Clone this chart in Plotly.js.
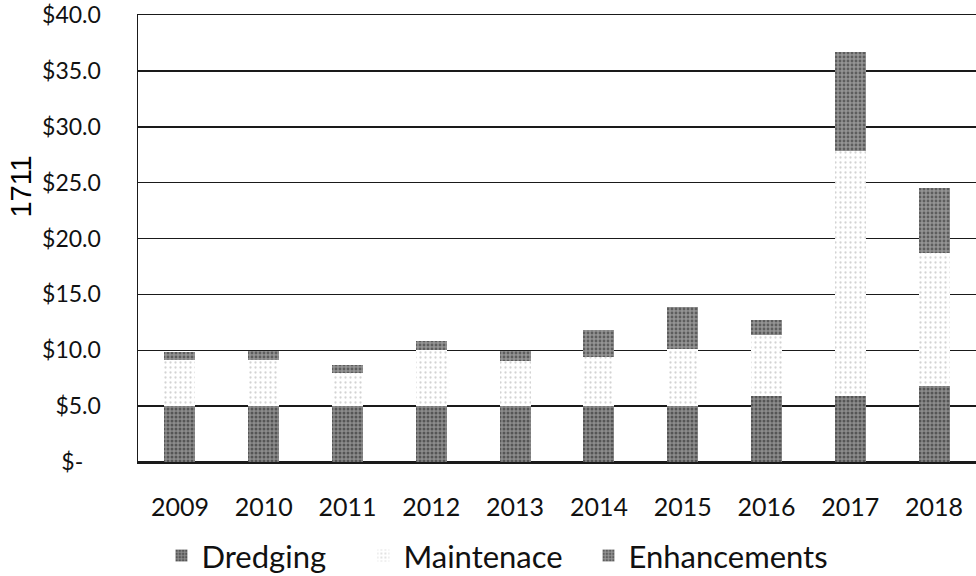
<!DOCTYPE html>
<html>
<head>
<meta charset="utf-8">
<script src="https://cdn.plot.ly/plotly-3.0.1.min.js"></script>
<style>html,body{margin:0;padding:0;background:#fff;}#chart{width:976px;height:576px;}</style>
</head>
<body>
<div id="chart"></div>
<script>
const years = ['2009','2010','2011','2012','2013','2014','2015','2016','2017','2018'];
const dredging = [5.0, 5.0, 5.0, 5.0, 5.0, 5.0, 5.0, 5.9, 5.9, 6.8];
const maintenance = [4.1, 4.1, 3.0, 5.0, 4.0, 4.4, 5.1, 5.5, 21.9, 11.9];
const enhancements = [0.7, 0.8, 0.7, 0.8, 0.9, 2.4, 3.8, 1.3, 8.9, 5.8];
const seriesNames = ['Dredging', 'Maintenace', 'Enhancements'];
const yTickVals = [0, 5, 10, 15, 20, 25, 30, 35, 40];
const yTickText = ['$-\u00a0\u00a0\u00a0', '$5.0', '$10.0', '$15.0', '$20.0', '$25.0', '$30.0', '$35.0', '$40.0'];
const stampText = '1711';

const font = 'Lato, "Open Sans", sans-serif';
function tr(name, vals, bg, fg, size, sol, leg) {
  return {
    type: 'bar', name: name, x: years, y: vals, width: 0.37, legend: leg,
    marker: {color: bg, line: {width: 0},
      pattern: {shape: '.', bgcolor: bg, fgcolor: fg, size: size, solidity: sol, fillmode: 'overlay'}},
    hoverinfo: 'skip'
  };
}
const data = [
  tr(seriesNames[0], dredging, '#8c8c8c', '#1e1e1e', 4, 0.45, 'legend'),
  tr(seriesNames[1], maintenance, '#ffffff', '#a8a8a8', 5, 0.16, 'legend2'),
  tr(seriesNames[2], enhancements, '#949494', '#262626', 4, 0.4, 'legend3')
];
function leg(xp) {
  return {
    orientation: 'h', x: xp, xanchor: 'left', y: -0.21, yanchor: 'middle',
    font: {size: 31, family: font, color: '#111'}, bgcolor: 'rgba(0,0,0,0)'
  };
}
const layout = {
  width: 976, height: 576,
  margin: {l: 138, r: 0, t: 15, b: 114, autoexpand: false},
  paper_bgcolor: '#fff', plot_bgcolor: '#fff',
  barmode: 'stack',
  showlegend: true,
  font: {family: font, color: '#111'},
  xaxis: {
    type: 'category', showgrid: false, zeroline: false, automargin: false,
    showline: true, mirror: true, linecolor: '#1a1a1a', linewidth: 1.5,
    ticks: '', tickfont: {size: 25, family: font, color: '#111'},
    ticklabelstandoff: 22
  },
  yaxis: {
    range: [0, 40], tickvals: yTickVals, ticktext: yTickText, automargin: false,
    showgrid: true, gridcolor: '#1a1a1a', gridwidth: 1.5,
    zeroline: true, zerolinecolor: '#1a1a1a', zerolinewidth: 1.5,
    showline: true, linecolor: '#1a1a1a', linewidth: 1.5,
    ticks: '', tickfont: {size: 23, family: font, color: '#111'},
    ticklabelstandoff: 31
  },
  legend: leg(0.028),
  legend2: leg(0.269),
  legend3: leg(0.5376),
  annotations: [{
    text: stampText, xref: 'paper', yref: 'paper', x: -0.139, y: 0.615,
    xanchor: 'center', yanchor: 'middle', textangle: -90, showarrow: false,
    font: {size: 29, family: 'Liberation Sans, sans-serif', color: '#000'}
  }]
};
Plotly.newPlot('chart', data, layout, {staticPlot: true, displayModeBar: false});
</script>
</body>
</html>
